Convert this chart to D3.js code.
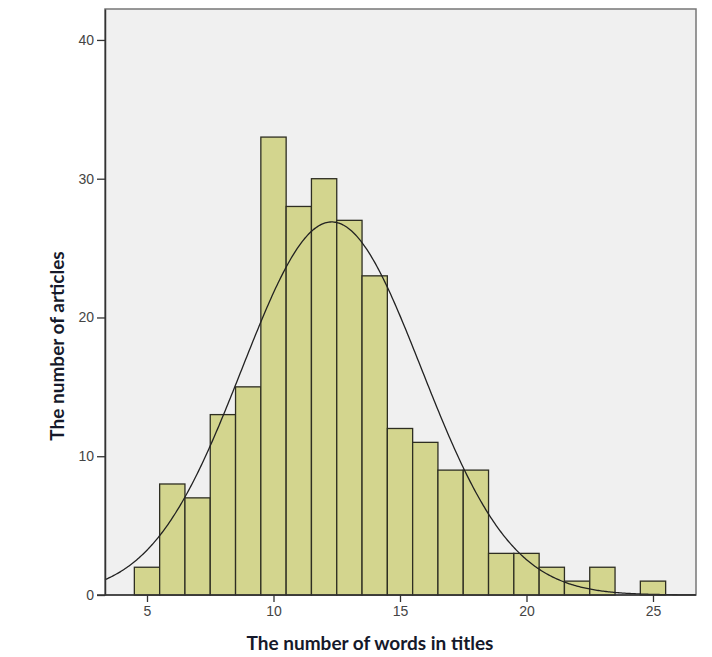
<!DOCTYPE html>
<html>
<head>
<meta charset="utf-8">
<script src="https://cdn.jsdelivr.net/npm/d3@7"></script>
<style>
  body { margin: 0; background: #fff; }
  svg { display: block; }
</style>
</head>
<body>
<script>
// histogram of title lengths (bin centre = number of words)
var words  = [5, 6, 7, 8, 9, 10, 11, 12, 13, 14, 15, 16, 17, 18, 19, 20, 21, 22, 23, 24, 25];
var counts = [2, 8, 7, 13, 15, 33, 28, 30, 27, 23, 12, 11, 9, 9, 3, 3, 2, 1, 2, 0, 1];
var xTicks = [5, 10, 15, 20, 25];
var yTicks = [0, 10, 20, 30, 40];

var width = 712, height = 657;
var margin = {top: 9, right: 16, bottom: 62, left: 105};
var w = width - margin.left - margin.right,
    h = height - margin.top - margin.bottom;

var svg = d3.select("body").append("svg")
    .attr("width", width)
    .attr("height", height);

var g = svg.append("g")
    .attr("transform", "translate(" + margin.left + "," + margin.top + ")");

var x = d3.scaleLinear().domain([3.34, 26.7]).range([0, w]);
var y = d3.scaleLinear().domain([0, 42.23]).range([h, 0]);

// plot background + frame
g.append("rect")
    .attr("width", w).attr("height", h)
    .attr("fill", "#f0f0f0")
    .attr("stroke", "#777")
    .attr("stroke-width", 1.5);

// bars
g.selectAll(".bar")
    .data(words)
  .enter().append("rect")
    .attr("class", "bar")
    .attr("x", d => x(d - 0.5))
    .attr("width", d => x(d + 0.5) - x(d - 0.5))
    .attr("y", (d, i) => y(counts[i]))
    .attr("height", (d, i) => y(0) - y(counts[i]))
    .attr("fill", "#d3d58e")
    .attr("stroke", "#2e2e22")
    .attr("stroke-width", 1.3)
    .style("display", (d, i) => counts[i] > 0 ? null : "none");

// normal curve fitted to the histogram (mean / sd of the binned data)
var n = d3.sum(counts);
var mean = d3.sum(words, (d, i) => d * counts[i]) / n;
var sd = Math.sqrt(d3.sum(words, (d, i) => counts[i] * (d - mean) * (d - mean)) / n);
var curve = d3.range(3.34, 26.7, 0.05).map(function (v) {
    return {x: v, y: n / (sd * Math.sqrt(2 * Math.PI)) * Math.exp(-(v - mean) * (v - mean) / (2 * sd * sd))};
});
g.append("path")
    .datum(curve)
    .attr("fill", "none")
    .attr("stroke", "#222")
    .attr("stroke-width", 1.3)
    .attr("d", d3.line().x(d => x(d.x)).y(d => y(d.y)));

// axes
var xAxis = g.append("g")
    .attr("transform", "translate(0," + h + ")")
    .call(d3.axisBottom(x).tickValues(xTicks).tickSize(7).tickSizeOuter(0).tickPadding(4));
var yAxis = g.append("g")
    .call(d3.axisLeft(y).tickValues(yTicks).tickSize(8).tickSizeOuter(0).tickPadding(3));

[xAxis, yAxis].forEach(function (a) {
    a.select(".domain").attr("stroke", "#333").attr("stroke-width", 1.5);
    a.selectAll(".tick line").attr("stroke", "#333").attr("stroke-width", 1.3);
    a.selectAll(".tick text")
        .attr("fill", "#444")
        .style("font-family", "Arial, 'Liberation Sans', sans-serif")
        .style("font-size", "14px");
});
// extend x axis line left to the zero tick
xAxis.select(".domain").attr("d", "M-8,0H" + w);

// axis titles
svg.append("text")
    .attr("x", 370)
    .attr("y", 650)
    .attr("text-anchor", "middle")
    .style("font-family", "Lato, 'Open Sans', sans-serif")
    .style("font-weight", "bold")
    .style("font-size", "19px")
    .attr("fill", "#15192a")
    .text("The number of words in titles");

svg.append("text")
    .attr("transform", "translate(64,346) rotate(-90)")
    .attr("text-anchor", "middle")
    .style("font-family", "Lato, 'Open Sans', sans-serif")
    .style("font-weight", "bold")
    .style("font-size", "19px")
    .attr("fill", "#15192a")
    .text("The number of articles");
</script>
</body>
</html>
